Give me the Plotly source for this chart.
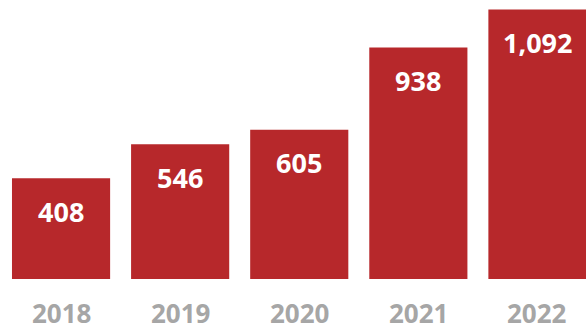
import plotly.graph_objects as go

years = ["2018", "2019", "2020", "2021", "2022"]
values = [408, 546, 605, 938, 1092]

BAR_RED = "#B7282B"
YEAR_GREY = "#A6A6A6"
FONT = "Open Sans"

fig = go.Figure(
    go.Bar(
        x=years,
        y=values,
        marker=dict(color=BAR_RED, line=dict(width=0)),
        hoverinfo="skip",
    )
)

# value labels just inside the top of each bar, year labels under the baseline
for i, (yr, v) in enumerate(zip(years, values)):
    fig.add_annotation(
        x=i, y=v, xref="x", yref="y", text=f"<b>{v:,}</b>", showarrow=False,
        yanchor="middle", yshift=-33,
        font=dict(family=FONT, size=27, color="white"),
    )
    fig.add_annotation(
        x=i, y=0, xref="x", yref="y", text=f"<b>{yr}</b>", showarrow=False,
        yanchor="middle", yshift=-34, borderpad=0,
        font=dict(family=FONT, size=26, color=YEAR_GREY),
    )

fig.update_layout(
    width=586, height=331,
    margin=dict(l=0, r=0, t=0, b=52),
    paper_bgcolor="white", plot_bgcolor="white",
    bargap=0.176,
    showlegend=False,
    xaxis=dict(type="category", range=[-0.5126, 4.4076], showticklabels=False,
               showgrid=False, zeroline=False, showline=False, fixedrange=True),
    yaxis=dict(range=[0, 1130.6], showticklabels=False, showgrid=False,
               zeroline=False, showline=False, fixedrange=True),
)

fig.write_html("out.html", config={"displayModeBar": False})
